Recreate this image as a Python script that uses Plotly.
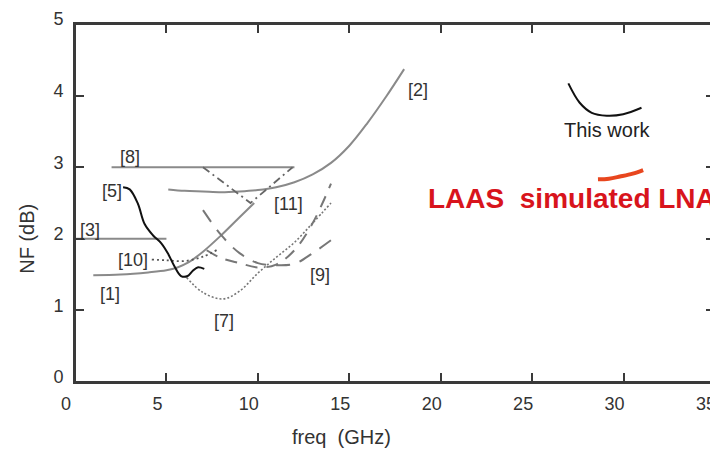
import plotly.graph_objects as go

# ---- data ----
f1 = [1.0, 2.5, 4.0, 5.0, 5.6, 6.2, 7.0, 8.0, 9.0, 9.8]
nf1 = [1.49, 1.50, 1.53, 1.56, 1.60, 1.67, 1.82, 2.05, 2.30, 2.50]

f2 = [5.1, 6, 7, 8, 9, 10, 11, 12, 13, 14, 15, 16, 17, 18.0]
nf2 = [2.69, 2.67, 2.66, 2.65, 2.66, 2.68, 2.72, 2.79, 2.90, 3.06, 3.30, 3.62, 3.98, 4.37]

f3 = [0.0, 5.0]
nf3 = [2.0, 2.0]

f5 = [2.63, 2.99, 3.44, 3.80, 4.26, 4.71, 5.07, 5.43, 5.80, 6.16, 6.43, 6.70, 7.07]
nf5 = [2.72, 2.69, 2.49, 2.21, 2.05, 1.94, 1.80, 1.62, 1.48, 1.48, 1.55, 1.60, 1.58]

f7 = [6.1, 7.0, 8.1, 9.0, 10.0, 11.0, 12.0, 13.0, 14.0]
nf7 = [1.46, 1.25, 1.16, 1.27, 1.52, 1.74, 1.95, 2.22, 2.50]

f8 = [2.0, 12.0]
nf8 = [3.0, 3.0]

f9a = [7.0, 8.0, 9.0, 10.0, 11.0, 12.0, 13.0, 14.0]
nf9a = [2.40, 2.05, 1.80, 1.66, 1.63, 1.65, 1.80, 1.98]

f9b = [7.2, 8.0, 9.0, 10.0, 11.0, 12.0, 13.0, 14.0]
nf9b = [1.84, 1.73, 1.66, 1.60, 1.64, 1.84, 2.22, 2.77]

f10 = [4.2, 5.0, 6.0, 7.0, 7.8]
nf10 = [1.71, 1.70, 1.69, 1.75, 1.85]

f11 = [7.0, 9.6, 11.9]
nf11 = [3.0, 2.5, 3.0]

f_this = [26.98, 27.6, 28.26, 29.08, 29.98, 30.98]
nf_this = [4.17, 3.90, 3.76, 3.72, 3.74, 3.83]

f_laas = [28.6, 29.2, 29.8, 30.5, 31.07]
nf_laas = [2.83, 2.84, 2.87, 2.91, 2.96]

ref_labels = ["[1]", "[2]", "[3]", "[5]", "[7]", "[8]", "[9]", "[10]", "[11]"]
ref_label_x = [1.9, 18.75, 0.8, 2.0, 8.15, 3.0, 13.4, 3.15, 11.7]
ref_label_y = [1.23, 4.08, 2.12, 2.67, 0.85, 3.14, 1.49, 1.71, 2.49]

x_ticks = [0, 5, 10, 15, 20, 25, 30, 35]
y_ticks = [0, 1, 2, 3, 4, 5]

GRAY = "#8a8a8a"
AXIS = "#3a3a3a"
FONT = "Arial, Liberation Sans, sans-serif"

fig = go.Figure()


def add(x, y, color=GRAY, width=2, dash="solid", shape="spline"):
    fig.add_trace(go.Scatter(x=x, y=y, mode="lines",
                             line=dict(color=color, width=width, dash=dash, shape=shape),
                             showlegend=False, hoverinfo="skip"))


add(f1, nf1)
add(f2, nf2)
add(f3, nf3, shape="linear")
add(f8, nf8, shape="linear")
add(f11, nf11, color="#666666", width=1.8, dash="8px,4px,2px,4px", shape="linear")
add(f9a, nf9a, color="#777777", width=2, dash="14px,10px")
add(f9b, nf9b, color="#777777", width=2, dash="12px,9px")
add(f7, nf7, color="#777777", width=1.6, dash="2px,2px")
add(f10, nf10, color="#555555", width=1.8, dash="2px,3px")
add(f5, nf5, color="#111111", width=2)
add(f_this, nf_this, color="#111111", width=2)
add(f_laas, nf_laas, color="#e8461e", width=4)

for t, x, y in zip(ref_labels, ref_label_x, ref_label_y):
    fig.add_annotation(x=x, y=y, xref="x", yref="y", text=t, showarrow=False,
                       xanchor="center", yanchor="middle",
                       font=dict(family=FONT, size=18, color="#333333"))

fig.add_annotation(x=29.1, y=3.52, xref="x", yref="y", text="This work", showarrow=False,
                   xanchor="center", yanchor="middle",
                   font=dict(family=FONT, size=20, color="#222222"))
fig.add_annotation(x=19.2, y=2.56, xref="x", yref="y", text="LAAS  simulated LNA",
                   showarrow=False, xanchor="left", yanchor="middle",
                   font=dict(family=FONT, size=28, color="#d8141c", weight="bold"))

fig.add_annotation(x=0.416, y=-0.153, xref="paper", yref="paper", text="freq  (GHz)",
                   showarrow=False, xanchor="center", yanchor="middle",
                   font=dict(family=FONT, size=20, color="#333333"))
fig.add_annotation(x=-0.075, y=0.40, xref="paper", yref="paper", text="NF (dB)",
                   textangle=-90, showarrow=False, xanchor="center", yanchor="middle",
                   font=dict(family=FONT, size=20, color="#333333"))

# plot frame
fig.add_shape(type="rect", xref="paper", yref="paper", x0=0, x1=1, y0=0, y1=1,
              line=dict(color=AXIS, width=2), layer="above")

axis_common = dict(showgrid=False, zeroline=False, showline=True, linecolor=AXIS,
                   linewidth=2, mirror="allticks", ticks="inside", ticklen=9, tickwidth=2,
                   tickcolor=AXIS, ticklabeloverflow="allow",
                   tickfont=dict(family=FONT, size=18, color="#333333"))

fig.update_layout(
    width=710, height=442,
    margin=dict(l=67, r=1, t=8, b=68),
    paper_bgcolor="white", plot_bgcolor="white",
    xaxis=dict(range=[0, 35], tickvals=x_ticks, ticktext=[str(v) for v in x_ticks],
               ticklabelshift=-9, ticklabelstandoff=4, **axis_common),
    yaxis=dict(range=[0, 5], tickvals=y_ticks, ticktext=[str(v) for v in y_ticks],
               ticklabelshift=-5, ticklabelstandoff=6, **axis_common),
)

fig.write_html("out.html")
